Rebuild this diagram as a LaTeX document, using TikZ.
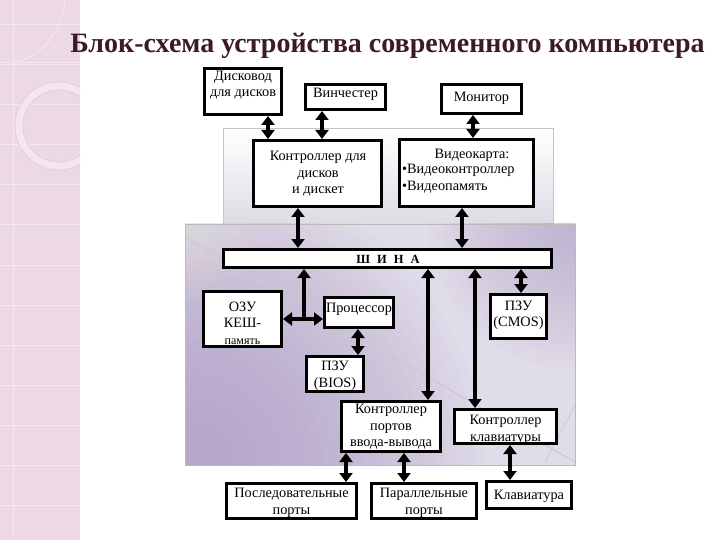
\documentclass[tikz,border=0pt]{standalone}
\usepackage{fontspec}
\setmainfont{Liberation Serif}
\usetikzlibrary{arrows.meta,calc}
\definecolor{titlec}{HTML}{3D1A2A}
\definecolor{pinkb}{HTML}{ECD9E5}
\definecolor{pinkl}{HTML}{F3E6EE}
\definecolor{pinkd}{HTML}{E0CAD8}
\definecolor{panelb}{HTML}{DEDAE4}
\definecolor{purbase}{HTML}{E1DCE9}
\definecolor{purdark}{HTML}{A896C2}
\definecolor{diagc}{HTML}{CDC5D3}
\begin{document}
\begin{tikzpicture}[x=1pt,y=-1pt,
  box/.style={draw=black, line width=3pt, fill=white, inner sep=0pt},
  txt/.style={font=\fontsize{14.3}{16.5}\selectfont, align=center, inner sep=0pt},
  arr/.style={line width=4.8pt, {Triangle[length=9pt,width=13pt]}-{Triangle[length=9pt,width=13pt]}},
  arrup/.style={line width=4.8pt, {Triangle[length=9pt,width=13pt]}-}]
\useasboundingbox (0,0) rectangle (720,540);
\fill[white] (0,0) rectangle (720,540);
% left decorative band
\fill[pinkb] (0,0) rectangle (80,540);
\foreach \yy in {25,65,...,545} \draw[white, line width=1pt, opacity=.45] (0,\yy) -- (80,\yy);
\begin{scope}
  \clip (0,0) rectangle (80,540);
  \draw[pinkl, line width=8pt] (59,126) circle (40);
  \draw[pinkd, line width=0.6pt] (59,126) circle (44) (59,126) circle (36);
  \draw[pinkl, line width=1pt] (13,0) -- (13,540);
  \draw[pinkl, line width=1pt] (0,63) -- (80,63);
  \draw[pinkl, line width=1.2pt] (13,63) .. controls (45,55) and (62,30) .. (65,0);
\end{scope}
% title
\node[anchor=base, inner sep=0pt, text=titlec, font=\fontsize{28}{30}\selectfont\bfseries] (title) at (387.5,53) {Блок-схема устройства современного компьютера};
% upper panel
\shade[top color=white, bottom color=panelb] (223,128) rectangle (553,226);
\draw[gray!45, line width=0.6pt] (223,128) rectangle (553,226);
% purple panel
\fill[purbase] (185,224) rectangle (575,465);
\begin{scope}
  \clip (185,224) rectangle (575,465);
  \foreach \r in {300,290,...,40} \fill[purdark, opacity=0.038] (185,470) circle (\r);
  \foreach \r in {150,142,...,30} \fill[purdark, opacity=0.037] (578,220) circle (\r);
  \foreach \r in {80,75,...,20} \fill[white, opacity=0.025] (185,224) circle (\r);
\end{scope}
\draw[diagc, line width=1pt] (185,237) -- (575,462);
\draw[diagc, line width=0.6pt] (545,462) -- (575,405);
\draw[gray!55, line width=0.6pt] (185,224) rectangle (575,465);
% boxes
\node[box, minimum width=77pt, minimum height=46pt] (dd) at (243,91.5) {};
\node[box, minimum width=80pt, minimum height=25pt] (vin) at (345.5,97) {};
\node[box, minimum width=80pt, minimum height=29pt] (mon) at (481.5,99) {};
\node[box, minimum width=128pt, minimum height=66pt] (kd) at (317.5,173.5) {};
\node[box, minimum width=134pt, minimum height=67pt] (vk) at (466.5,173) {};
\node[box, minimum width=328pt, minimum height=18pt] (bus) at (387.5,258.5) {};
\node[box, minimum width=78pt, minimum height=55pt] (ozu) at (242.5,319) {};
\node[box, minimum width=69pt, minimum height=30pt] (proc) at (359,312.5) {};
\node[box, minimum width=56pt, minimum height=44pt] (cmos) at (518.5,316.5) {};
\node[box, minimum width=57pt, minimum height=35pt] (bios) at (335,374) {};
\node[box, minimum width=99pt, minimum height=50pt] (kp) at (391,426.5) {};
\node[box, minimum width=102pt, minimum height=34pt] (kk) at (505.5,426.5) {};
\node[box, minimum width=130pt, minimum height=35pt] (pos) at (291.5,501) {};
\node[box, minimum width=105pt, minimum height=35pt] (par) at (424,501) {};
\node[box, minimum width=85pt, minimum height=27pt] (kl) at (529,495) {};
% texts
\node[txt] (ddt) at (243,85) {Дисковод\\для дисков};
\node[txt] (vint) at (345.5,94) {Винчестер};
\node[txt] (mont) at (481.5,98) {Монитор};
\node[txt] (kdt) at (318,174) {Контроллер для\\дисков\\и дискет};
\node[txt] (vkt) at (472,155) {Видеокарта:};
\node[txt, align=left, anchor=west] (vkl) at (402,178.5) {•Видеоконтроллер\\•Видеопамять};
\node[txt, font=\fontsize{12.5}{14}\selectfont\bfseries] (bust) at (388,259) {Ш\hspace{7pt}И\hspace{7pt}Н\hspace{7pt}А};
\node[txt] (ozut) at (242.5,323) {ОЗУ\\КЕШ-\\{\fontsize{12}{14}\selectfont память}};
\node[txt] (proct) at (359,309.5) {Процессор};
\node[txt] (cmost) at (518.5,315.5) {ПЗУ\\(CMOS)};
\node[txt] (biost) at (335,376) {ПЗУ\\(BIOS)};
\node[txt] (kpt) at (391,427) {Контроллер\\портов\\ввода-вывода};
\node[txt] (kkt) at (505.5,430) {Контроллер\\клавиатуры};
\node[txt] (post) at (291.5,503) {Последовательные\\порты};
\node[txt] (part) at (424,503) {Параллельные\\порты};
\node[txt] (klt) at (529,496) {Клавиатура};
% connector columns
\coordinate (c1) at (268,0);
\coordinate (c2) at (322,0);
\coordinate (c3) at (473,0);
\coordinate (c4) at (298,0);
\coordinate (c5) at (462,0);
\coordinate (c7) at (358,0);
\coordinate (c8) at (428,0);
\coordinate (c9) at (475,0);
\coordinate (c10) at (521,0);
\coordinate (c11) at (346,0);
\coordinate (c12) at (404,0);
\coordinate (c13) at (510,0);
\coordinate (jn) at (304,319);
% connectors
\draw[arr] (dd.south -| c1) -- (kd.north -| c1);
\draw[arr] (vin.south -| c2) -- (kd.north -| c2);
\draw[arr] (mon.south -| c3) -- (vk.north -| c3);
\draw[arr] (kd.south -| c4) -- (bus.north -| c4);
\draw[arr] (vk.south -| c5) -- (bus.north -| c5);
\draw[arrup] (bus.south -| jn) -- (jn);
\draw[arr] (ozu.east |- jn) -- (proc.west |- jn);
\draw[arr] (proc.south -| c7) -- (bios.north -| c7);
\draw[arr] (bus.south -| c8) -- (kp.north -| c8);
\draw[arr] (bus.south -| c9) -- (kk.north -| c9);
\draw[arr] (bus.south -| c10) -- (cmos.north -| c10);
\draw[arr] (kp.south -| c11) -- (pos.north -| c11);
\draw[arr] (kp.south -| c12) -- (par.north -| c12);
\draw[arr] (kk.south -| c13) -- (kl.north -| c13);
\end{tikzpicture}
\end{document}
